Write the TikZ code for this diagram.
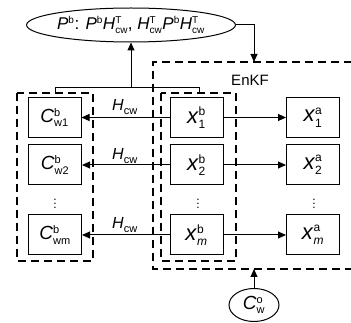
\documentclass[tikz,border=0pt]{standalone}
\usepackage{fontspec}
\setmainfont{Liberation Sans}
\usetikzlibrary{arrows.meta,shapes.geometric}
\newcommand\SpSb[4]{\textit{#1}\ensuremath{^{\mbox{\fontsize{#4}{#4}\selectfont #2}}_{\mbox{\fontsize{#4}{#4}\selectfont #3}}}}
\begin{document}
\begin{tikzpicture}[x=1pt,y=-1pt,
  box/.style={draw,line width=1pt,minimum width=53pt,minimum height=40pt,inner sep=0pt,font=\fontsize{19}{19}\selectfont},
  xbox/.style={box,font=\fontsize{22}{22}\selectfont},
  dbox/.style={draw,line width=1.8pt,dash pattern=on 8pt off 5pt},
  arr/.style={line width=1pt,-{Triangle[length=8pt,width=7pt]}},
  ln/.style={line width=1pt},
  hl/.style={font=\fontsize{16}{16}\selectfont},
  vd/.style={font=\fontsize{12}{12}\selectfont,inner sep=0pt}]
\useasboundingbox (0,0) rectangle (351,323);
% top ellipse
\node[draw,ellipse,line width=1pt,minimum width=208pt,minimum height=34pt,inner sep=0pt,font=\fontsize{17}{17}\selectfont] (pb) at (131,25)
  {\SpSb{P}{b}{}{10}: \SpSb{P}{b}{}{10}\SpSb{H}{T}{cw}{10}, \SpSb{H}{T}{cw}{10}\SpSb{P}{b}{}{10}\SpSb{H}{T}{cw}{10}};
% EnKF box
\coordinate (etl) at (153,62);
\coordinate (etr) at (352,62);
\coordinate (ebl) at (153,269);
\coordinate (ebr) at (352,269);
\coordinate (etop) at (254,62);
\coordinate (ebot) at (254,269);
\draw[dbox] (etr) -- (etl) -- (ebl) -- (ebr);
\node[font=\fontsize{15}{15}\selectfont] (enkf) at (250,80) {EnKF};
% left and middle dashed boxes
\draw[dbox] (17,93) rectangle (93,261);
\draw[dbox] (161,93) rectangle (236,261);
% tree
\coordinate (tl) at (55,88);
\coordinate (tr) at (199,88);
\coordinate (tm) at (131,88);
\coordinate (tlb) at (55,94);
\coordinate (trb) at (199,94);
\draw[ln] (tlb) -- (tl) -- (tr) -- (trb);
\draw[arr] (tm) -- (pb.south);
\draw[arr] (pb.east) -| (etop);
% boxes
\node[box] (c1) at (54.5,117.5) {\SpSb{C}{b}{w1}{11}};
\node[box] (c2) at (55,165) {\SpSb{C}{b}{w2}{11}};
\node[box] (cm) at (55,235) {\SpSb{C}{b}{wm}{11}};
\node[xbox] (xb1) at (196.5,117.5) {\SpSb{x}{b}{1}{12}};
\node[xbox] (xb2) at (196.5,165) {\SpSb{x}{b}{2}{12}};
\node[xbox] (xbm) at (196.5,235) {\SpSb{x}{b}{\textit{m}}{12}};
\node[xbox] (xa1) at (313,117.5) {\SpSb{x}{a}{1}{12}};
\node[xbox] (xa2) at (313,165) {\SpSb{x}{a}{2}{12}};
\node[xbox] (xam) at (313,235) {\SpSb{x}{a}{\textit{m}}{12}};
% dots
\node[vd] (d1) at (55,201) {$\vdots$};
\node[vd] (d2) at (198,201) {$\vdots$};
\node[vd] (d3) at (314,201) {$\vdots$};
% arrows
\draw[arr] (xb1) -- (c1);
\draw[arr] (xb2) -- (c2);
\draw[arr] (xbm) -- (cm);
\draw[arr] (xb1) -- (xa1);
\draw[arr] (xb2) -- (xa2);
\draw[arr] (xbm) -- (xam);
\node[hl] (h1) at (125,107) {\SpSb{H}{}{cw}{11}};
\node[hl] (h2) at (125,156) {\SpSb{H}{}{cw}{11}};
\node[hl] (hm) at (125,225) {\SpSb{H}{}{cw}{11}};
% bottom ellipse
\node[draw,ellipse,line width=1pt,minimum width=50pt,minimum height=33pt,inner sep=0pt,font=\fontsize{19}{19}\selectfont] (co) at (254,305) {\SpSb{C}{o}{w}{11}};
\draw[arr] (co.north) -- (ebot);
\end{tikzpicture}
\end{document}
